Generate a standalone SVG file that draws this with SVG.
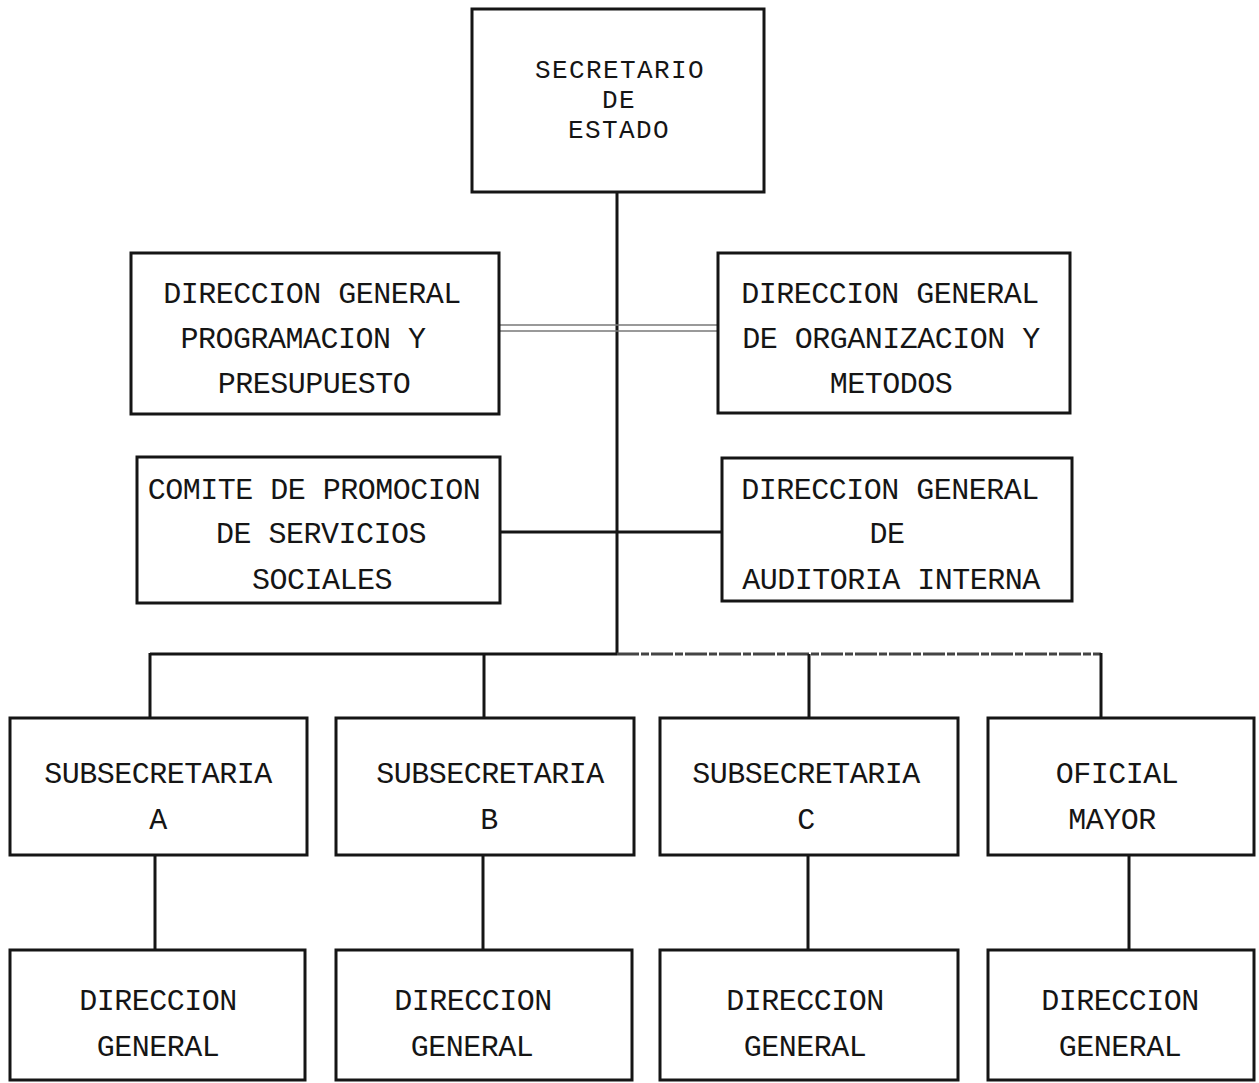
<svg xmlns="http://www.w3.org/2000/svg" width="1259" height="1083" viewBox="0 0 1259 1083">
<style>
.box{fill:none;stroke:#151515;stroke-width:3}
.t{font-family:"Liberation Mono","Courier New",monospace;font-size:30px;fill:#151515;text-anchor:middle;letter-spacing:-0.5px}
.ts{font-family:"Liberation Mono","Courier New",monospace;font-size:26px;fill:#151515;text-anchor:middle;letter-spacing:1.4px}
.c{fill:none;stroke:#151515;stroke-width:3}
.thin{fill:none;stroke:#777;stroke-width:1.5}
.dash{fill:none;stroke:#444;stroke-width:3;stroke-dasharray:22 2 8 2}
</style>
<rect width="1259" height="1083" fill="#fff"/>
<g id="connectors">
<line class="c" x1="617" y1="192" x2="617" y2="655"/>
<line class="thin" x1="499" y1="325" x2="718" y2="325"/>
<line class="thin" x1="499" y1="331" x2="718" y2="331"/>
<line class="c" x1="500" y1="532" x2="722" y2="532"/>
<line class="c" x1="150" y1="654" x2="617" y2="654"/>
<line class="dash" x1="617" y1="654" x2="1101" y2="654"/>
<line class="c" x1="150" y1="653" x2="150" y2="718"/>
<line class="c" x1="484" y1="654" x2="484" y2="718"/>
<line class="c" x1="809" y1="654" x2="809" y2="718"/>
<line class="c" x1="1101" y1="653" x2="1101" y2="718"/>
<line class="c" x1="155" y1="855" x2="155" y2="950"/>
<line class="c" x1="483" y1="855" x2="483" y2="950"/>
<line class="c" x1="808" y1="855" x2="808" y2="950"/>
<line class="c" x1="1129" y1="855" x2="1129" y2="950"/>
</g>
<g id="secretario">
<rect class="box" x="472" y="9" width="292" height="183"/>
<text class="ts" x="620" y="78">SECRETARIO</text>
<text class="ts" x="619" y="108">DE</text>
<text class="ts" x="619" y="138">ESTADO</text>
</g>
<g id="dg-programacion">
<rect class="box" x="131" y="253" width="368" height="161"/>
<text class="t" x="312" y="303">DIRECCION GENERAL</text>
<text class="t" x="303" y="348">PROGRAMACION Y</text>
<text class="t" x="314" y="393">PRESUPUESTO</text>
</g>
<g id="dg-organizacion">
<rect class="box" x="718" y="253" width="352" height="160"/>
<text class="t" x="890" y="303">DIRECCION GENERAL</text>
<text class="t" x="891" y="348">DE ORGANIZACION Y</text>
<text class="t" x="891" y="393">METODOS</text>
</g>
<g id="comite">
<rect class="box" x="137" y="457" width="363" height="146"/>
<text class="t" x="314" y="499">COMITE DE PROMOCION</text>
<text class="t" x="321" y="543">DE SERVICIOS</text>
<text class="t" x="322" y="589">SOCIALES</text>
</g>
<g id="dg-auditoria">
<rect class="box" x="722" y="458" width="350" height="143"/>
<text class="t" x="890" y="499">DIRECCION GENERAL</text>
<text class="t" x="887" y="543">DE</text>
<text class="t" x="891" y="589">AUDITORIA INTERNA</text>
</g>
<g id="sub-a">
<rect class="box" x="10" y="718" width="297" height="137"/>
<text class="t" x="158" y="783">SUBSECRETARIA</text>
<text class="t" x="158" y="829">A</text>
</g>
<g id="sub-b">
<rect class="box" x="336" y="718" width="298" height="137"/>
<text class="t" x="490" y="783">SUBSECRETARIA</text>
<text class="t" x="489" y="829">B</text>
</g>
<g id="sub-c">
<rect class="box" x="660" y="718" width="298" height="137"/>
<text class="t" x="806" y="783">SUBSECRETARIA</text>
<text class="t" x="806" y="829">C</text>
</g>
<g id="oficial-mayor">
<rect class="box" x="988" y="718" width="266" height="137"/>
<text class="t" x="1117" y="783">OFICIAL</text>
<text class="t" x="1112" y="829">MAYOR</text>
</g>
<g id="dg-a">
<rect class="box" x="10" y="950" width="295" height="130"/>
<text class="t" x="158" y="1010">DIRECCION</text>
<text class="t" x="158" y="1056">GENERAL</text>
</g>
<g id="dg-b">
<rect class="box" x="336" y="950" width="296" height="130"/>
<text class="t" x="473" y="1010">DIRECCION</text>
<text class="t" x="472" y="1056">GENERAL</text>
</g>
<g id="dg-c">
<rect class="box" x="660" y="950" width="298" height="130"/>
<text class="t" x="805" y="1010">DIRECCION</text>
<text class="t" x="805" y="1056">GENERAL</text>
</g>
<g id="dg-d">
<rect class="box" x="988" y="950" width="266" height="130"/>
<text class="t" x="1120" y="1010">DIRECCION</text>
<text class="t" x="1120" y="1056">GENERAL</text>
</g>
</svg>
